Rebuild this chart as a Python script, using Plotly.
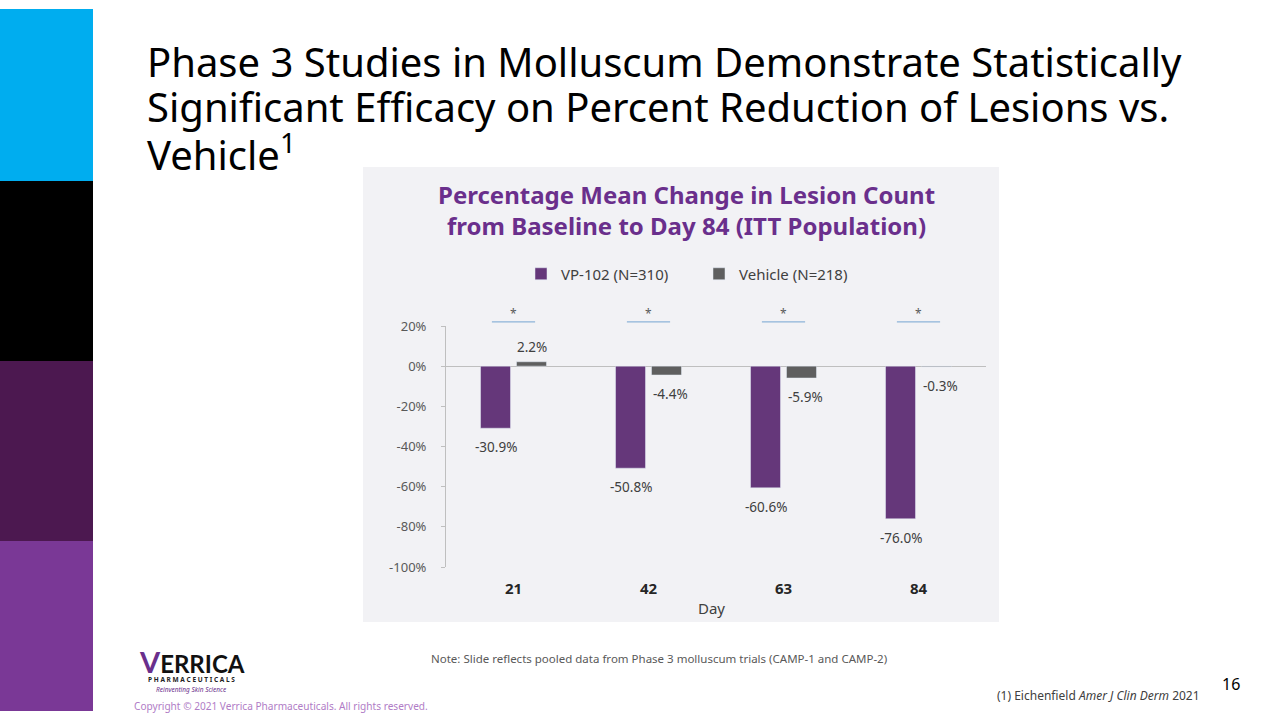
import plotly.graph_objects as go

days = ["21", "42", "63", "84"]
vp102 = [-30.9, -50.8, -60.6, -76.0]
vehicle = [2.2, -4.4, -5.9, -0.3]
series_names = ["VP-102 (N=310)", "Vehicle (N=218)"]
y_ticks = [20, 0, -20, -40, -60, -80, -100]
y_tick_labels = ["20%", "0%", "-20%", "-40%", "-60%", "-80%", "-100%"]
sig_marks = ["*", "*", "*", "*"]

VP_COLOR = "#65377A"
VEH_COLOR = "#5F5F5F"
FONT = "Noto Sans"

W, H = 1280, 720


def fy(Y):
    # figure pixel row that lands on picture row Y in the photographed page
    return (Y - 8) / 0.975


def P(x, Y):
    return x / W, 1 - fy(Y) / H


fig = go.Figure()
fig.add_trace(go.Bar(x=days, y=vp102, name=series_names[0], marker=dict(color=VP_COLOR)))
fig.add_trace(go.Bar(x=days, y=vehicle, name=series_names[1], marker=dict(color=VEH_COLOR)))

annotations = []
for i, d in enumerate(days):
    for vals, shift in ((vp102, -18), (vehicle, 18)):
        v = vals[i]
        annotations.append(dict(x=i, y=v, xref="x", yref="y", xshift=shift + (4 if shift > 0 and v < 0 else 0),
                                yshift=(-19 if v < 0 else 15),
                                text=f"{v:.1f}%", showarrow=False,
                                font=dict(family=FONT, size=13.5, color="#404040")))
    annotations.append(dict(x=i, y=1.05, xref="x", yref="y domain", yanchor="middle", text=sig_marks[i],
                            showarrow=False, font=dict(family=FONT, size=12, color="#595959")))

_, p166 = P(0, 166)
_, p621 = P(0, 621)
_, p180 = P(0, 180)
_, p360 = P(0, 360)
_, p540 = P(0, 540)
shapes = [
    dict(type="rect", xref="paper", yref="paper", x0=363/W, x1=999/W, y0=p621, y1=p166,
         fillcolor="#F2F2F5", line=dict(width=0), layer="below"),
    dict(type="rect", xref="paper", yref="paper", x0=0, x1=93/W, y0=p180, y1=1, fillcolor="#00ADEF", line=dict(width=0)),
    dict(type="rect", xref="paper", yref="paper", x0=0, x1=93/W, y0=p360, y1=p180, fillcolor="#000000", line=dict(width=0)),
    dict(type="rect", xref="paper", yref="paper", x0=0, x1=93/W, y0=p540, y1=p360, fillcolor="#4C1850", line=dict(width=0)),
    dict(type="rect", xref="paper", yref="paper", x0=0, x1=93/W, y0=0, y1=p540, fillcolor="#7A3896", line=dict(width=0)),
]
for i, d in enumerate(days):
    shapes.append(dict(type="line", xref="x", yref="y domain", x0=i-0.16, x1=i+0.16, y0=1.017, y1=1.017,
                       line=dict(color="#8DB3D8", width=1.2)))


def text_at(x, Y, text, size, color, xanchor="left", family=FONT, align="left"):
    px, py = P(x, Y)
    annotations.append(dict(x=px, y=py, xref="paper", yref="paper", xanchor=xanchor, yanchor="middle",
                            text=text, showarrow=False, align=align,
                            font=dict(family=family, size=size, color=color)))


title_lines = ["Phase 3 Studies in Molluscum Demonstrate Statistically",
               "Significant Efficacy on Percent Reduction of Lesions vs.",
               "Vehicle<sup>1</sup>"]
for j, t in enumerate(title_lines):
    text_at(145, 60 + j * 45.7, t, 40, "#000000")

text_at(686, 209.5, "<b>Percentage Mean Change in Lesion Count<br>from Baseline to Day 84 (ITT Population)</b>",
        24, "#6A2F8C", xanchor="center", align="center")
text_at(711, 607, "Day", 15, "#404040", xanchor="center")
text_at(429, 658, "Note: Slide reflects pooled data from Phase 3 molluscum trials (CAMP-1 and CAMP-2)",
        11.5, "#595959")
text_at(1202, 694, "(1) Eichenfield <i>Amer J Clin Derm</i> 2021", 12, "#404040", xanchor="right")
text_at(1231, 683, "16", 16, "#000000", xanchor="center")
text_at(132, 705, "Copyright © 2021 Verrica Pharmaceuticals. All rights reserved.", 10.1, "#B07CC6")
# logo (text rendition)
text_at(137, 660, "<b><span style='color:#6A2F8C;font-size:29px'>V</span>ERRICA</b>", 24, "#111111",
        family="Lato")
text_at(191, 678, "<b>P H A R M A C E U T I C A L S</b>", 6.5, "#222222", xanchor="center")
text_at(191, 688, "<i>Reinventing Skin Science</i>", 6.5, "#6A2F8C", xanchor="center")

_, ytop = P(0, 325)
_, ybot = P(0, 566)
_, xpos = P(0, 577)
_, leg_y = P(0, 273)

fig.update_layout(
    width=W, height=H, margin=dict(l=0, r=0, t=0, b=0),
    paper_bgcolor="#FFFFFF", plot_bgcolor="rgba(0,0,0,0)",
    barmode="group", bargap=0.467, bargroupgap=0.167,
    font=dict(family=FONT),
    xaxis=dict(type="category", range=[-0.5, 3.5], domain=[446/W, 986/W], showgrid=False, showline=False,
               zeroline=False, ticks="", tickfont=dict(family=FONT, size=15, color="#262626"),
               anchor="free", position=xpos, tickprefix="<b>", ticksuffix="</b>"),
    yaxis=dict(domain=[ybot, ytop], range=[-100, 20], tickvals=y_ticks, ticktext=y_tick_labels,
               showgrid=False, showline=True, linecolor="#BFBFBF", linewidth=1,
               ticks="outside", ticklen=4, tickcolor="#BFBFBF",
               zeroline=True, zerolinecolor="#BFBFBF", zerolinewidth=1.2,
               tickfont=dict(family=FONT, size=13, color="#595959"), ticklabelstandoff=12),
    legend=dict(orientation="h", x=521/W, xanchor="left", y=leg_y, yanchor="middle", xref="paper", yref="paper",
                font=dict(family=FONT, size=15, color="#404040"), bgcolor="rgba(0,0,0,0)", entrywidth=133,
                itemwidth=30, traceorder="normal"),
    showlegend=True,
    annotations=annotations, shapes=shapes,
)

fig.write_html(
    "out.html",
    post_script=(
        "document.documentElement.style.margin='0';document.body.style.margin='0';"
        "document.body.style.overflow='hidden';"
        "var d=document.getElementById('{plot_id}');d.style.position='fixed';d.style.top='0px';d.style.left='0px';"
    ),
)
